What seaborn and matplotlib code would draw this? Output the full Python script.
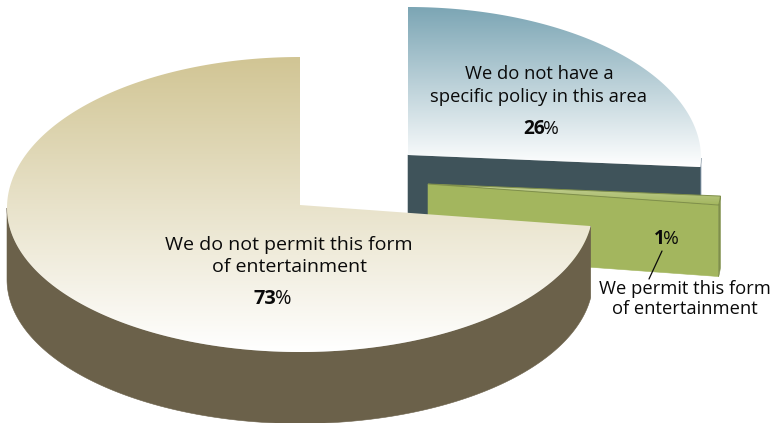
import numpy as np
import matplotlib
matplotlib.use("Agg")
import matplotlib.pyplot as plt
from matplotlib.colors import LinearSegmentedColormap
from matplotlib.patches import Polygon
import seaborn as sns

# Survey shares, clockwise from twelve o'clock
categories = ["We do not have a\nspecific policy in this area",
              "We permit this form\nof entertainment",
              "We do not permit this form\nof entertainment"]
shares = [26, 1, 73]

# Pixel-space layout of the exploded pie: apex of each slice and ellipse radii
centres = [(408, 155), (428, 184), (300, 205)]
RX, RY_BACK, RY_FRONT, APEX_LIFT, DEPTH = 293, 151, 144, 3, 71.5
face_tops = ["#7BA5B4", "#C6D29A", "#D1C594"]
face_bottoms = ["#FFFFFF", "#A3B65E", "#FFFFFF"]
side_colours = ["#3F535A", "#A3B65E", "#6B614A"]
wall_colours = ["#64798A", "#7F8F4A", "#6B614A"]

sns.set_theme(style="white")
plt.rcParams["font.family"] = ["Open Sans", "DejaVu Sans"]

fig = plt.figure(figsize=(7.76, 4.23), dpi=100)
ax = fig.add_axes([0, 0, 1, 1])
ax.set_xlim(0, 776)
ax.set_ylim(423, 0)
ax.axis("off")


def rim(cx, cy, start, stop, n=300):
    """Points on the ellipse, angles in degrees clockwise from the top."""
    t = np.radians(np.linspace(start, stop, n))
    ry = np.where(np.cos(t) > 0, RY_BACK, RY_FRONT)
    return np.column_stack([cx + RX * np.sin(t), cy + APEX_LIFT - ry * np.cos(t)])


def extrude(points):
    """Closed band between a top edge and the same edge moved down by DEPTH."""
    lower = points[::-1] + [0, DEPTH]
    return np.vstack([points, lower])


edges = np.cumsum([0] + shares) * 3.6
for i, (start, stop) in enumerate(zip(edges[:-1], edges[1:])):
    cx, cy = centres[i]
    arc = rim(cx, cy, start, stop)
    z = 3 * i + 1

    # Visible cut face running from the apex to the leading rim point
    if i < 2:
        cut = np.array([[cx, cy], rim(cx, cy, stop, stop, 1)[0]])
        ax.add_patch(Polygon(extrude(cut), closed=True, fc=side_colours[i],
                             ec=side_colours[i], lw=0.4, zorder=z))

    # Outer wall where the rim faces the viewer
    low, high = max(start, 90), min(stop, 270)
    if low < high:
        wall = wall_colours[i]
        ax.add_patch(Polygon(extrude(rim(cx, cy, low, high)), closed=True,
                             fc=wall, ec=wall, lw=0.4, zorder=z))

    # Top face with a vertical gradient
    shape = np.vstack([[cx, cy], arc])
    outline = Polygon(shape, closed=True, fc="none", ec="none", zorder=z + 1)
    ax.add_patch(outline)
    cmap = LinearSegmentedColormap.from_list(f"face{i}", [face_tops[i], face_bottoms[i]])
    img = ax.imshow(np.linspace(0, 1, 256)[:, None], cmap=cmap, aspect="auto",
                    extent=(shape[:, 0].min() - 2, shape[:, 0].max() + 2,
                            shape[:, 1].max(), shape[:, 1].min()),
                    zorder=z + 1)
    img.set_clip_path(outline)
    if i == 1:
        ax.add_patch(Polygon(shape, closed=True, fc="none",
                             ec="#7F8F4A", lw=0.7, zorder=z + 2))

ax.set_xlim(0, 776)
ax.set_ylim(423, 0)

TEXT = "#0A0A0A"
SIZE = 13.2
SIZE_MAIN = 14.0


def percent(x, y, value, size):
    ax.text(x, y, str(value), ha="right", va="center", fontsize=size, fontweight="bold",
            color=TEXT, zorder=20)
    ax.text(x - 1.5, y, "%", ha="left", va="center", fontsize=size, color=TEXT, zorder=20)


ax.text(539, 85.5, categories[0], ha="center", va="center", fontsize=SIZE, color=TEXT,
        linespacing=1.31, zorder=20)
percent(545, 129.5, shares[0], 13.8)
ax.text(289, 256, categories[2], ha="center", va="center", fontsize=SIZE_MAIN, color=TEXT,
        linespacing=1.3, zorder=20)
percent(276, 299.5, shares[2], 14.4)
ax.text(685, 299, categories[1], ha="center", va="center", fontsize=SIZE, color=TEXT,
        linespacing=1.13, zorder=20)
percent(665, 238.5, shares[1], 13.8)
ax.plot([662, 649], [251, 279], color=TEXT, lw=0.9, zorder=20)

fig.savefig("out.png", dpi=100, facecolor="white")
